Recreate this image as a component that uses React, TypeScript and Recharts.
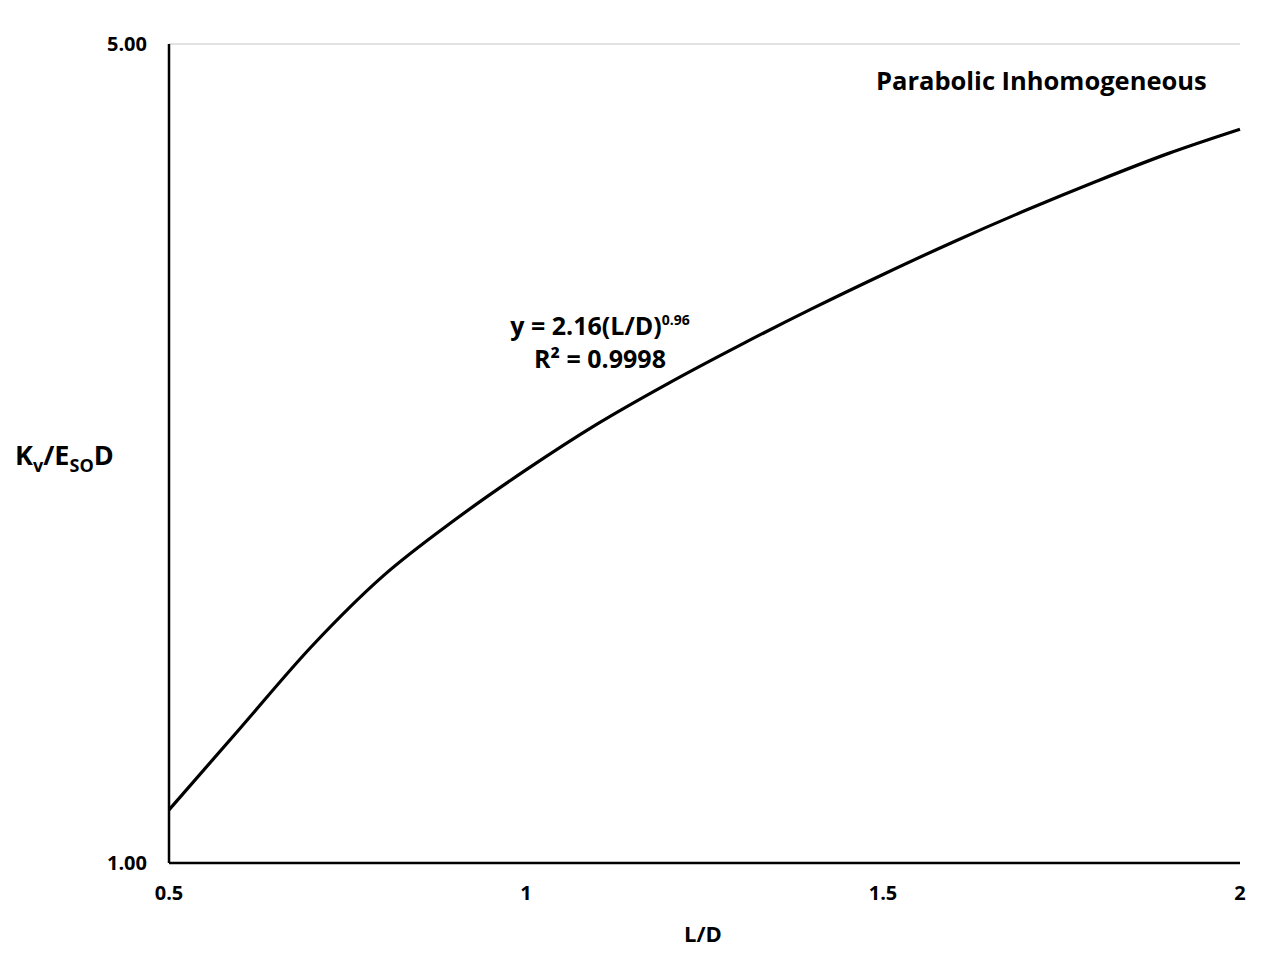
import React from "react";
import { LineChart, Line, XAxis, YAxis, CartesianGrid } from "recharts";

const ldValues = [0.5, 0.6, 0.7, 0.8, 0.9, 1.0, 1.1, 1.2, 1.3, 1.4, 1.5, 1.6, 1.7, 1.8, 1.9, 2.0];
const kValues = [1.11, 1.304, 1.531, 1.758, 1.962, 2.165, 2.37, 2.568, 2.767, 2.971, 3.179, 3.392, 3.606, 3.82, 4.033, 4.229];
const xTicks = [0.5, 1, 1.5, 2];
const yTicks = [1, 5];

const data = ldValues.map((x, i) => ({ x, y: kValues[i] }));

const FONT = "'Open Sans', 'DejaVu Sans', sans-serif";
const W = 1262;
const H = 952;

export default function App() {
  return (
    <div style={{ position: "relative", width: W, height: H, fontFamily: FONT }}>
      <LineChart
        width={W}
        height={H}
        data={data}
        margin={{ top: 36, right: 30, left: 101, bottom: 57 }}
      >
        <CartesianGrid vertical={false} stroke="#d9d9d9" strokeWidth={1.5} />
        <XAxis
          dataKey="x"
          type="number"
          domain={[0.5, 2]}
          ticks={xTicks}
          height={40}
          tickLine={false}
          tickMargin={17}
          axisLine={{ stroke: "#000", strokeWidth: 2.5 }}
          tick={{ fill: "#000", fontSize: 20, fontWeight: 700, fontFamily: FONT }}
        />
        <YAxis
          dataKey="y"
          scale="log"
          domain={[1, 5]}
          ticks={yTicks}
          width={60}
          allowDataOverflow
          tickLine={false}
          tickMargin={16}
          tickFormatter={(v: number) => v.toFixed(2)}
          axisLine={{ stroke: "#000", strokeWidth: 2.5 }}
          tick={{ fill: "#000", fontSize: 20, fontWeight: 700, fontFamily: FONT }}
        />
        <Line
          type="monotone"
          dataKey="y"
          stroke="#000"
          strokeWidth={3.2}
          dot={false}
          isAnimationActive={false}
        />
      </LineChart>
      <svg
        width={W}
        height={H}
        style={{ position: "absolute", left: 0, top: 0, pointerEvents: "none" }}
        fontFamily={FONT}
        fontWeight={700}
        fill="#000"
      >
        <text x={868} y={82} fontSize={25.5}>Parabolic Inhomogeneous</text>
        <text x={592} y={327} fontSize={25} textAnchor="middle">
          y = 2.16(L/D)
          <tspan fontSize={14} dy={-10}>0.96</tspan>
        </text>
        <text x={592} y={360} fontSize={25} textAnchor="middle">R² = 0.9998</text>
        <text x={695} y={934} fontSize={22} textAnchor="middle">L/D</text>
        <text x={7} y={457} fontSize={27}>
          K
          <tspan fontSize={18} dy={7}>v</tspan>
          <tspan dy={-7}>/E</tspan>
          <tspan fontSize={18} dy={7}>SO</tspan>
          <tspan dy={-7}>D</tspan>
        </text>
      </svg>
    </div>
  );
}
